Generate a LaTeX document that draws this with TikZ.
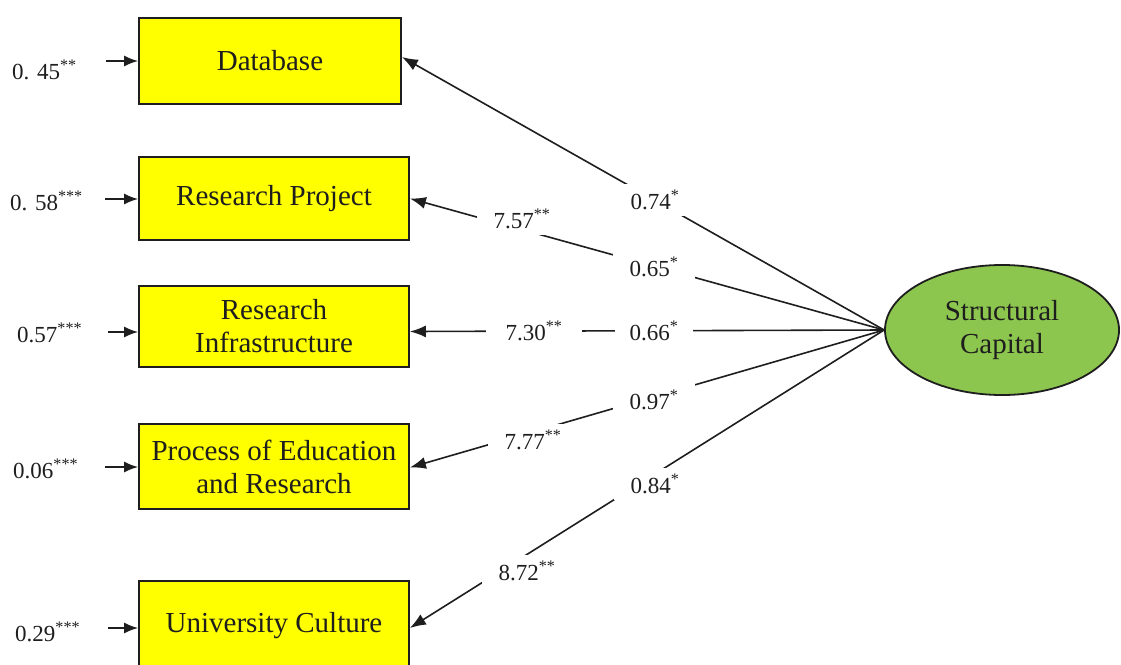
\documentclass[tikz,border=0pt]{standalone}
\usepackage{fontspec}
\setmainfont{Liberation Serif}
\usetikzlibrary{arrows.meta,shapes.geometric}
\definecolor{boxyellow}{RGB}{255,255,0}
\definecolor{capgreen}{RGB}{141,198,78}
\definecolor{ink}{RGB}{30,30,30}
\begin{document}
\begin{tikzpicture}[x=1pt,y=-1pt,
  box/.style={draw=ink, line width=1.8pt, fill=boxyellow, minimum width=270pt,
    inner sep=0pt, align=center, text=ink, font=\fontsize{29}{33}\selectfont},
  latent/.style={ellipse, draw=ink, line width=1.8pt, fill=capgreen, minimum width=234pt,
    minimum height=130pt, inner sep=0pt, align=center, text=ink, font=\fontsize{29}{33}\selectfont},
  conn/.style={draw=ink, line width=1.6pt, -{Latex[length=16pt,width=12pt]}},
  errarrow/.style={draw=ink, line width=1.6pt, -{Latex[length=14pt,width=11pt]}},
  lbl/.style={fill=white, inner xsep=17pt, inner ysep=6pt, text=ink, font=\fontsize{23}{25}\selectfont},
  errlbl/.style={anchor=west, inner sep=0pt, text=ink, font=\fontsize{23}{25}\selectfont}]
\clip (0,0) rectangle (1121,664);
\fill[white] (0,0) rectangle (1121,664);

% indicator boxes
\node[box, minimum width=262pt, minimum height=86pt] (db) at (270,61) {Database};
\node[box, minimum height=83pt] (rp) at (274,198.5) {Research Project};
\node[box, minimum height=81pt] (ri) at (274,326.5) {Research\\Infrastructure};
\node[box, minimum height=85pt] (pe) at (274,466.5) {Process of Education\\and Research};
\node[box, minimum height=90pt] (uc) at (274,626) {University Culture};

% latent variable
\node[latent] (sc) at (1002,330) {Structural\\Capital};

% error terms
\node[errlbl] (e1) at (12,70) {0. 45\textsuperscript{**}};
\node[errlbl] (e2) at (10,201) {0. 58\textsuperscript{***}};
\node[errlbl] (e3) at (17,333) {0.57\textsuperscript{***}};
\node[errlbl] (e4) at (13,469) {0.06\textsuperscript{***}};
\node[errlbl] (e5) at (15,632) {0.29\textsuperscript{***}};
\coordinate (s1) at (106,61);
\coordinate (s2) at (105,199);
\coordinate (s3) at (108,332);
\coordinate (s4) at (105,467);
\coordinate (s5) at (108,628);
\draw[errarrow] (s1) -- (db.west |- s1);
\draw[errarrow] (s2) -- (rp.west |- s2);
\draw[errarrow] (s3) -- (ri.west |- s3);
\draw[errarrow] (s4) -- (pe.west |- s4);
\draw[errarrow] (s5) -- (uc.west |- s5);

% loadings
\draw[conn] (sc.west) -- ([yshift=4pt]db.east);
\draw[conn] (sc.west) -- (rp.east);
\draw[conn] (sc.west) -- ([yshift=-5pt]ri.east);
\draw[conn] (sc.west) -- ([yshift=-1pt]pe.east);
\draw[conn] (sc.west) -- ([yshift=-2pt]uc.east);

% labels on loadings
\node[lbl, inner xsep=13pt] (l1) at (655,200) {0.74\textsuperscript{*}};
\node[lbl] (t2) at (522,219) {7.57\textsuperscript{**}};
\node[lbl] (l2) at (654,267) {0.65\textsuperscript{*}};
\node[lbl, inner xsep=20pt] (t3) at (534,331) {7.30\textsuperscript{**}};
\node[lbl, inner xsep=15pt] (l3) at (654,331) {0.66\textsuperscript{*}};
\node[lbl] (l4) at (654,400) {0.97\textsuperscript{*}};
\node[lbl] (t4) at (533,440) {7.77\textsuperscript{**}};
\node[lbl] (l5) at (655,484) {0.84\textsuperscript{*}};
\node[lbl] (t5) at (527,571) {8.72\textsuperscript{**}};
\end{tikzpicture}
\end{document}
